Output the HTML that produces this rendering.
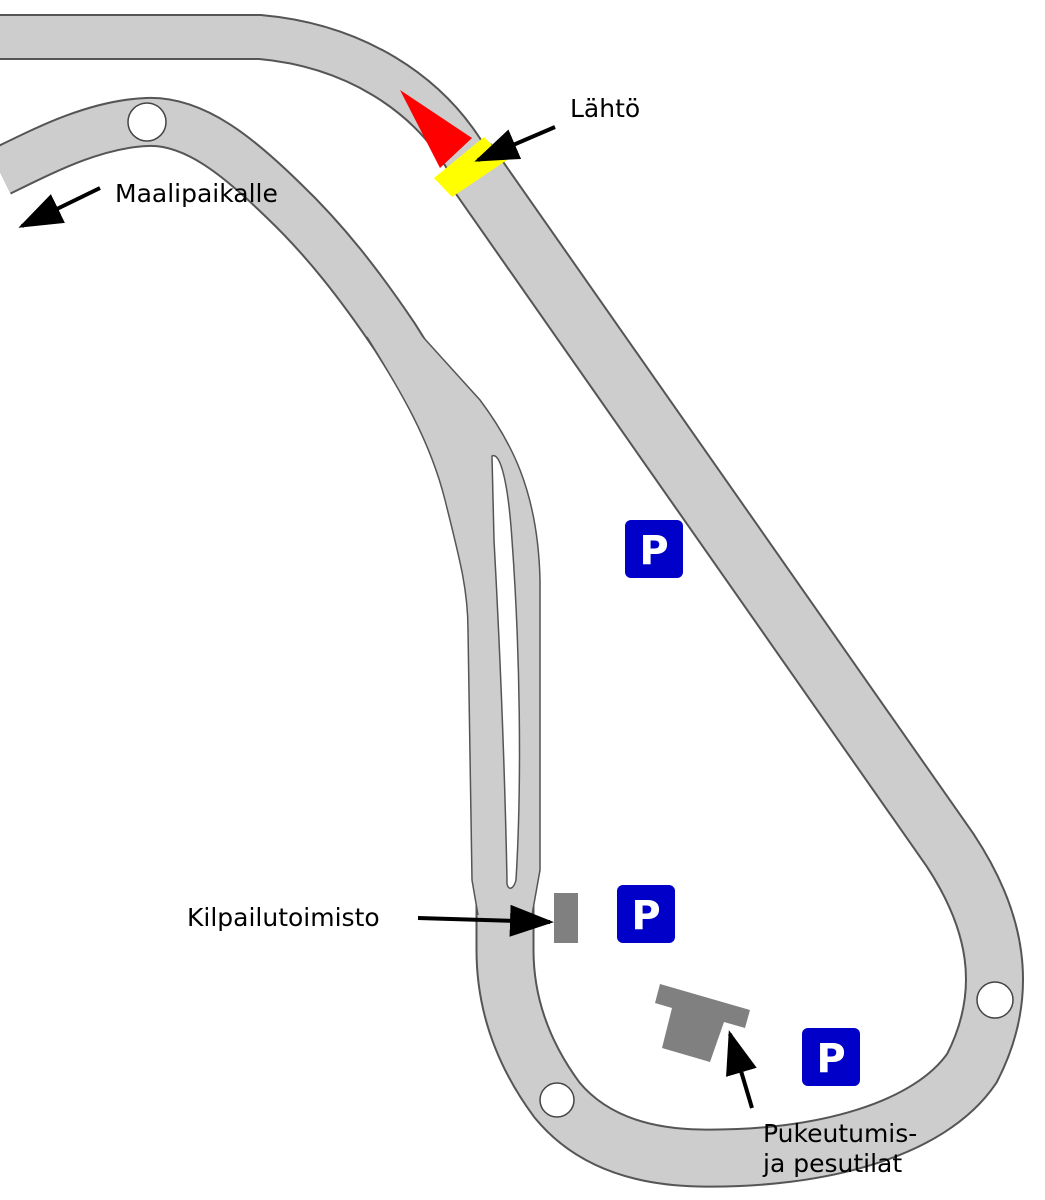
<!DOCTYPE html>
<html><head><meta charset="utf-8"><style>
html,body{margin:0;padding:0;background:#fff;}
svg{display:block;}
.t{font-family:"DejaVu Sans","Liberation Sans",sans-serif;font-size:25px;fill:#000;}
.p{font-family:"DejaVu Sans","Liberation Sans",sans-serif;font-size:40px;font-weight:bold;fill:#fff;}
</style></head><body>
<svg width="1045" height="1200" viewBox="0 0 1045 1200">
<defs><marker id="ah" markerWidth="11" markerHeight="8" refX="10" refY="4" orient="auto" markerUnits="strokeWidth"><path d="M0,0 L11,4 L0,8 Z" fill="#000"/></marker></defs>
<g fill="none" stroke="#555">
<path d="M0 37 L260 37 C350 45 430 90 472 168" stroke-width="46"/>
<path d="M467 160 L950 850 C995 918 1012 990 972 1068 C930 1130 820 1160 700 1158 C640 1157 590 1140 557 1100 C520 1050 505 1000 505 950 L505 890" stroke-width="59"/>
<path d="M425 385 L395 337 C360 285 325 240 283 200 C240 158 195 120 147 122 C95 124 45 150 0 172" stroke-width="50"/>
</g>
<g fill="none" stroke="#cdcdcd">
<path d="M0 37 L260 37 C350 45 430 90 472 168" stroke-width="42"/>
<path d="M467 160 L950 850 C995 918 1012 990 972 1068 C930 1130 820 1160 700 1158 C640 1157 590 1140 557 1100 C520 1050 505 1000 505 950 L505 890" stroke-width="55"/>
<path d="M425 385 L395 337 C360 285 325 240 283 200 C240 158 195 120 147 122 C95 124 45 150 0 172" stroke-width="46"/>
</g>
<path d="M367 337 C400 390 430 440 445 500 C460 560 468 590 468 630 L472 880 L478 915 L532 915 L540 870 L540 580 C538 490 510 440 480 400 L423 337 Z" fill="#cdcdcd"/>
<g fill="none" stroke="#555" stroke-width="1.5">
<path d="M367 337 C400 390 430 440 445 500 C460 560 468 590 468 630 L472 880 L478 915"/>
<path d="M423 337 L480 400 C510 440 538 490 540 580 L540 870 L532 915"/>
</g>
<path d="M492 456 C500 452 508 480 512 540 C520 650 522 780 516 880 C513 892 506 890 507 880 C505 780 500 650 494 540 Z" fill="#fff" stroke="#555" stroke-width="1.5"/>
<circle cx="147" cy="122" r="19" fill="#fff" stroke="#444" stroke-width="1.5"/>
<circle cx="557" cy="1100" r="17" fill="#fff" stroke="#444" stroke-width="1.5"/>
<circle cx="995" cy="1000" r="18" fill="#fff" stroke="#444" stroke-width="1.5"/>
<polygon points="400,90 472,138 440,168" fill="#f00"/>
<polygon points="434,178 484,137 507,160 452,197" fill="#ff0"/>
<rect x="554" y="893" width="24" height="50" fill="#808080"/>
<polygon points="660,984 750,1010 745,1028 724,1022 710,1062 662,1048 672,1008 655,1003" fill="#808080"/>
<g fill="#0000c8">
<rect x="625" y="520" width="58" height="58" rx="6"/>
<rect x="617" y="885" width="58" height="58" rx="6"/>
<rect x="802" y="1028" width="58" height="58" rx="6"/>
</g>
<text class="p" x="654" y="564" text-anchor="middle">P</text>
<text class="p" x="646" y="929" text-anchor="middle">P</text>
<text class="p" x="831" y="1072" text-anchor="middle">P</text>
<g stroke="#000" stroke-width="4" marker-end="url(#ah)">
<line x1="555" y1="127" x2="478" y2="160"/>
<line x1="100" y1="188" x2="22" y2="226"/>
<line x1="418" y1="918" x2="550" y2="922"/>
<line x1="752" y1="1108" x2="730" y2="1034"/>
</g>
<text class="t" x="570" y="117">Lähtö</text>
<text class="t" x="115" y="202">Maalipaikalle</text>
<text class="t" x="187" y="926">Kilpailutoimisto</text>
<text class="t" x="763" y="1142">Pukeutumis-</text>
<text class="t" x="763" y="1172">ja pesutilat</text>
</svg>
</body></html>
